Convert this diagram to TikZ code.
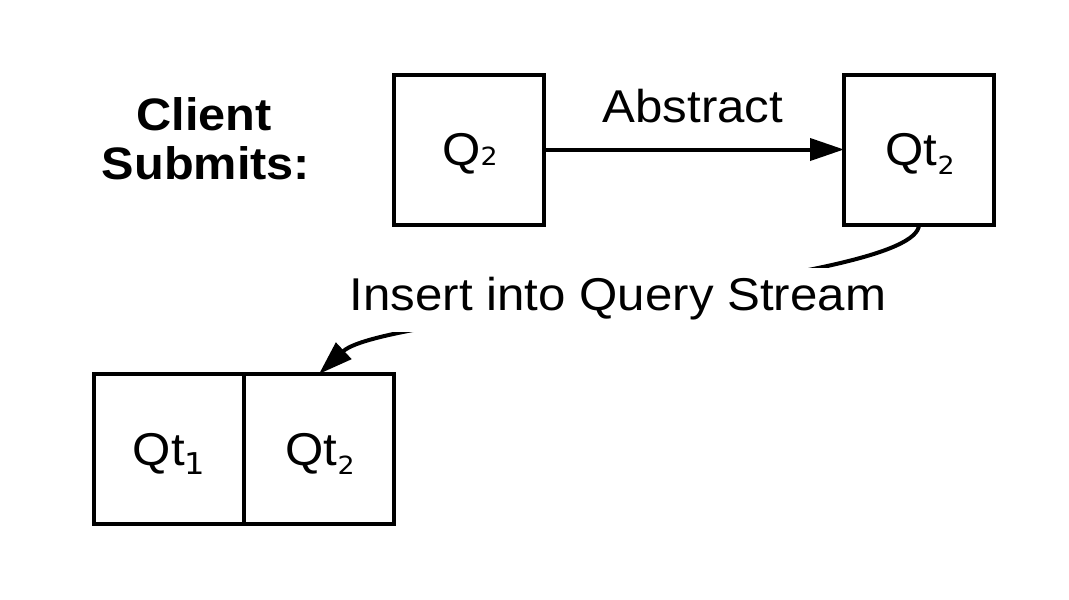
\documentclass[tikz,border=0pt]{standalone}
\usepackage{graphicx}
\usepackage{fontspec}
\setmainfont{Liberation Sans}
\newfontfamily\dejavu{DejaVu Sans}
\usetikzlibrary{arrows.meta}
\newcommand{\wide}[1]{\scalebox{1.07}[1]{#1}}
\newcommand{\mysubs}[2][0pt]{\raisebox{#1}{\dejavu\fontsize{25}{25}\selectfont #2}}
\tikzset{
  qbox/.style={draw, line width=4pt, minimum width=150pt, minimum height=150pt,
    inner sep=0pt, outer sep=0pt, text height=32pt, text depth=0pt,
    font=\fontsize{46}{46}\selectfont},
  lbl/.style={font=\fontsize{46}{46}\selectfont, inner sep=0pt},
  conn/.style={line width=4pt, -{Triangle[length=34pt,width=22pt]}},
}
\begin{document}
\begin{tikzpicture}[x=1pt,y=-1pt]
\useasboundingbox[fill=white] (0,0) rectangle (1069,600);
\node[lbl, anchor=base, font=\bfseries\fontsize{45.5}{45.5}\selectfont] (client) at (204,130) {\wide{Client}};
\node[lbl, anchor=base, font=\bfseries\fontsize{45.5}{45.5}\selectfont] (submits) at (206,179) {\wide{Submits:}};
\node[qbox] (q2) at (469,149.5) {\wide{\hspace*{2pt}Q\mysubs{2}}};
\node[qbox] (qt2) at (919,149.5) {\wide{\hspace*{2pt}Qt\mysubs[-9pt]{2}}};
\node[qbox] (s1) at (169,449) {\wide{Qt\raisebox{-9pt}{\dejavu\fontsize{30}{30}\selectfont 1}}};
\node[qbox] (s2) at (319,449) {\wide{\hspace*{2pt}Qt\mysubs[-9pt]{2}}};
\draw[conn] (q2.east) -- (qt2.west);
\node[lbl, anchor=base] (abs) at (693,122) {\wide{Abstract}};
\draw[conn] (qt2.south) .. controls (919,285) and (385,312) .. (s2.north);
\node[lbl, anchor=base, fill=white, inner xsep=3pt, inner ysep=0pt, text height=42pt, text depth=22pt] (ins) at (618,310) {\wide{Insert into Query Stream}};
\end{tikzpicture}
\end{document}
